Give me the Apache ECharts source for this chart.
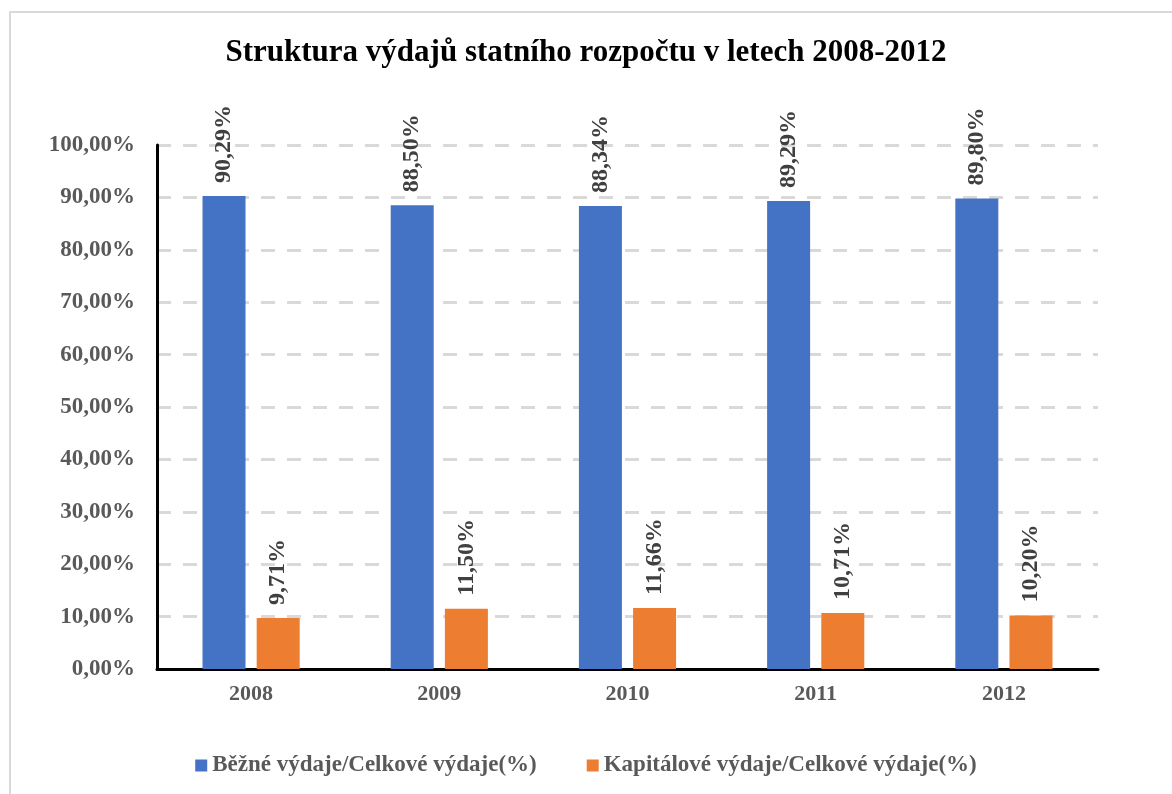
<!DOCTYPE html>
<html lang="cs">
<head>
    <meta charset="UTF-8">
    <title>Struktura výdajů</title>
    <style>
        * { margin: 0; padding: 0; }
        body { background: #fff; }
        #charts { width: 1172px; height: 794px; }
    </style>
    <script src="https://cdn.jsdelivr.net/npm/echarts@6/dist/echarts.min.js"></script>
</head>
<body>
<div id="charts"></div>
<script>
    var years = ['2008', '2009', '2010', '2011', '2012'];
    var bezne = [90.29, 88.50, 88.34, 89.29, 89.80];
    var kapitalove = [9.71, 11.50, 11.66, 10.71, 10.20];
    var seriesNames = ['Běžné výdaje/Celkové výdaje(%)', 'Kapitálové výdaje/Celkové výdaje(%)'];

    var serif = '"Liberation Serif", "Times New Roman", serif';

    function pct(v) {
        return v.toFixed(2).replace('.', ',') + '%';
    }

    var labelStyle = {
        show: true,
        position: 'top',
        rotate: 90,
        align: 'left',
        verticalAlign: 'middle',
        distance: 13,
        fontFamily: serif,
        fontWeight: 'bold',
        fontSize: 24,
        color: '#404040',
        formatter: function (p) { return pct(p.value); }
    };

    var option = {
        animation: false,
        graphic: [{
            type: 'rect',
            shape: { x: 10, y: 12, width: 1180, height: 800 },
            style: { fill: 'none', stroke: '#d9d9d9', lineWidth: 2 }
        }],
        title: {
            text: 'Struktura výdajů statního rozpočtu v letech 2008-2012',
            left: 'center',
            top: 32,
            textStyle: {
                fontFamily: serif,
                fontWeight: 'bold',
                fontSize: 31,
                color: '#000'
            }
        },
        legend: {
            data: seriesNames,
            bottom: 12,
            left: 'center',
            itemWidth: 12,
            itemHeight: 12,
            itemGap: 50,
            icon: 'rect',
            textStyle: {
                fontFamily: serif,
                fontWeight: 'bold',
                fontSize: 23,
                color: '#595959'
            }
        },
        grid: {
            left: 157,
            right: 74,
            top: 145,
            bottom: 125
        },
        xAxis: {
            type: 'category',
            data: years,
            axisTick: { show: false },
            axisLine: { lineStyle: { color: '#000', width: 3 } },
            axisLabel: {
                margin: 14,
                fontFamily: serif,
                fontWeight: 'bold',
                fontSize: 22,
                color: '#595959'
            }
        },
        yAxis: {
            type: 'value',
            min: 0,
            max: 100,
            interval: 10,
            axisLine: { show: true, lineStyle: { color: '#000', width: 3 } },
            axisTick: { show: false },
            splitLine: { lineStyle: { color: '#d9d9d9', width: 3, type: [14, 12] } },
            axisLabel: {
                margin: 22,
                fontFamily: serif,
                fontWeight: 'bold',
                fontSize: 23,
                color: '#595959',
                formatter: function (v) { return pct(v); }
            }
        },
        series: [{
            name: seriesNames[0],
            type: 'bar',
            data: bezne,
            barWidth: 43,
            barGap: '26%',
            itemStyle: { color: '#4472c4' },
            label: labelStyle
        }, {
            name: seriesNames[1],
            type: 'bar',
            data: kapitalove,
            barWidth: 43,
            itemStyle: { color: '#ed7d31' },
            label: labelStyle
        }]
    };

    var myChart = echarts.init(document.getElementById('charts'));
    myChart.setOption(option);
</script>
</body>
</html>
